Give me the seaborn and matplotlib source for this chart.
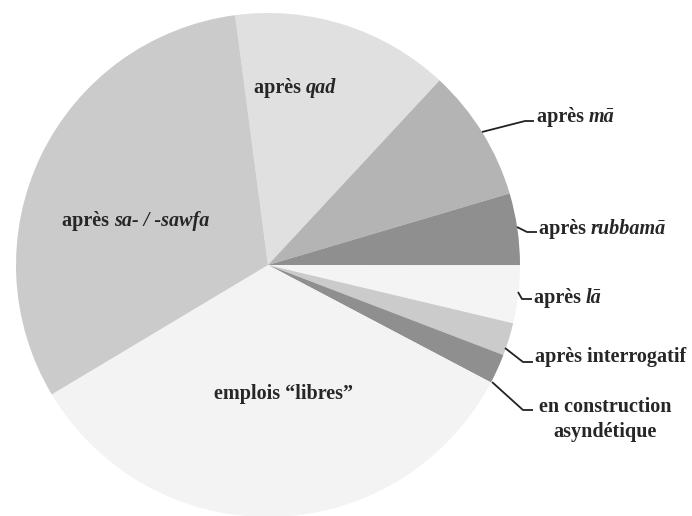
import numpy as np
import pandas as pd
import seaborn as sns
import matplotlib.pyplot as plt

###############################
######### data ################
###############################
# slices in clockwise order, starting near 12 o'clock
categories = ['qad', 'ma', 'rubbama', 'la', 'interrogatif', 'asyndetique', 'libres', 'sawfa']
shares = [14.0, 8.5, 4.6, 3.7, 2.1, 1.9, 33.7, 31.5]
greys = ['#e0e0e0', '#b4b4b4', '#8f8f8f', '#f4f4f4', '#cbcbcb', '#8f8f8f', '#f3f3f3', '#cbcbcb']

data = pd.DataFrame({'cat': categories, 'share': shares, 'color': greys})

##############################
######## plot ################
##############################
sns.set_style('white')
plt.rcParams['font.family'] = ['Liberation Serif', 'DejaVu Serif']
fs = 14.5

W, H = 692, 516
cx, cy, R = 268, 265, 252  # pie centre / radius in pixels

fig = plt.figure(figsize=(W / 100, H / 100), dpi=100)
ax = fig.add_axes([0, 0, 1, 1])

ax.pie(data['share'], colors=data['color'], startangle=97.5, counterclock=False,
       radius=1, center=(0, 0), wedgeprops={'linewidth': 0})

# pie() resets the limits, so fix them afterwards
ax.set_aspect('auto')
ax.set_xlim(-cx / R, (W - cx) / R)
ax.set_ylim((cy - H) / R, cy / R)
ax.axis('off')


def px(x, y):
    # pixel position -> data coords
    return (x - cx) / R, (cy - y) / R


def label(x, y, plain, ital=None):
    t = ax.text(*px(x, y), plain, fontsize=fs, fontweight='bold', ha='left', va='center')
    if ital:
        ax.annotate(ital, xy=(1, 0.5), xycoords=t, va='center', ha='left',
                    fontsize=fs, fontweight='bold', fontstyle='italic')
    return t


def leader(pts):
    xs, ys = zip(*[px(a, b) for a, b in pts])
    ax.plot(xs, ys, color='#222222', lw=1.3, solid_capstyle='butt')


# labels inside the pie
label(254, 88, 'après ', 'qad')
label(62, 221, 'après ', 'sa- / -sawfa')
ax.text(*px(283, 394), 'emplois \u201clibres\u201d', fontsize=fs, fontweight='bold',
        ha='center', va='center')

# labels outside with leader lines
label(537, 117, 'après ', 'mā')
leader([(482, 132), (525, 121), (534, 121)])

label(539, 229, 'après ', 'rubbamā')
leader([(517, 227), (527, 232), (537, 232)])

label(534, 298, 'après ', 'lā')
leader([(518, 292), (522, 299), (532, 299)])

label(535, 357, 'après interrogatif')
leader([(505, 348), (523, 362), (533, 362)])

ax.text(*px(605, 407), 'en construction', fontsize=fs, fontweight='bold', ha='center', va='center')
ax.text(*px(605, 432), 'asyndétique', fontsize=fs, fontweight='bold', ha='center', va='center')
leader([(492, 382), (523, 410), (533, 410)])

fig.savefig('out.png', dpi=100)
